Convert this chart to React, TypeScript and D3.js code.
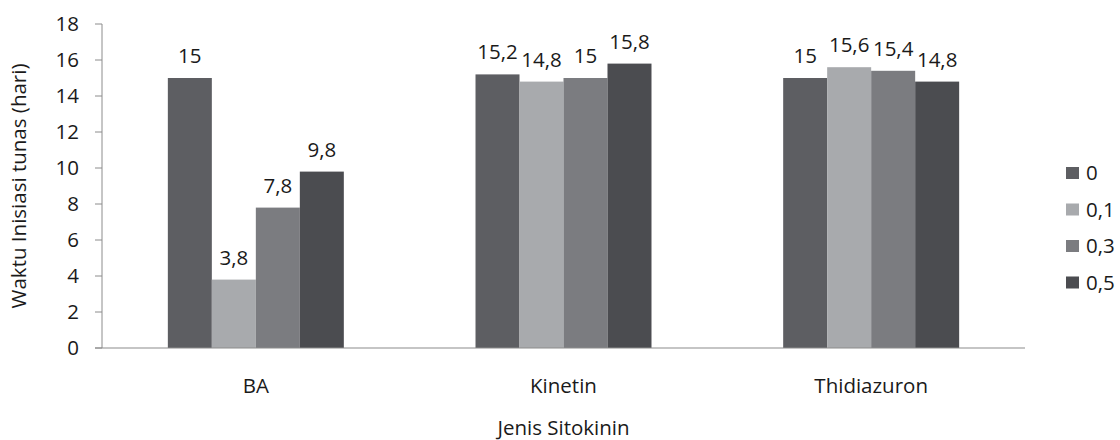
import React from "react";
import * as d3 from "d3";

const categories = ["BA", "Kinetin", "Thidiazuron"];
const seriesNames = ["0", "0,1", "0,3", "0,5"];
const seriesColors = ["#5d5e62", "#a8aaad", "#7b7c80", "#4b4c50"];
const values0 = [15, 15.2, 15];
const values01 = [3.8, 14.8, 15.6];
const values03 = [7.8, 15, 15.4];
const values05 = [9.8, 15.8, 14.8];
const yTicks = [0, 2, 4, 6, 8, 10, 12, 14, 16, 18];
const yTitle = "Waktu Inisiasi tunas (hari)";
const xTitle = "Jenis Sitokinin";

const seriesValues = [values0, values01, values03, values05];

export default function App() {
  const W = 1120, H = 440;
  const left = 102, right = 1025, top = 24, bottom = 348;
  const font = "'Open Sans', sans-serif";
  const fs = 20.5;
  const x0 = d3.scaleBand<string>().domain(categories).range([left, right]).paddingInner(0).paddingOuter(0);
  const bw = x0.bandwidth();
  const groupW = bw * 0.572;
  const x1 = d3.scaleBand<string>().domain(seriesNames).range([(bw - groupW) / 2, (bw + groupW) / 2]).padding(0);
  const y = d3.scaleLinear().domain([0, 18]).range([bottom, top]);
  const fmt = (v: number) => String(v).replace(".", ",");
  const axisColor = "#8c8c8c";
  const textColor = "#1a1a1a";

  return (
    <svg width={W} height={H} style={{ position: "absolute", left: 0, top: 0, background: "#fff" }} fontFamily={font}>
      <rect x={0} y={0} width={W} height={H} fill="#fff" />
      {/* y axis */}
      <line x1={left} x2={left} y1={top} y2={bottom} stroke={axisColor} strokeWidth={1} />
      {yTicks.map((t) => (
        <g key={t}>
          <line x1={left - 7} x2={left} y1={y(t)} y2={y(t)} stroke={axisColor} strokeWidth={1} />
          <text x={79} y={y(t)} dy="0.36em" textAnchor="end" fontSize={fs} fill={textColor}>
            {t}
          </text>
        </g>
      ))}
      {/* bars */}
      {categories.map((c, ci) => (
        <g key={c} transform={`translate(${x0(c)},0)`}>
          {seriesNames.map((s, si) => {
            const v = seriesValues[si][ci];
            const bx = x1(s)!;
            return (
              <g key={s}>
                <rect x={bx} y={y(v)} width={x1.bandwidth()} height={y(0) - y(v)} fill={seriesColors[si]} />
                <text x={bx + x1.bandwidth() / 2} y={y(v) - 15} textAnchor="middle" fontSize={fs} fill={textColor}>
                  {fmt(v)}
                </text>
              </g>
            );
          })}
          <text x={bw / 2} y={393} textAnchor="middle" fontSize={fs} fill={textColor}>
            {c}
          </text>
        </g>
      ))}
      {/* x axis */}
      <line x1={left - 7} x2={right} y1={bottom} y2={bottom} stroke={axisColor} strokeWidth={1.2} />
      {/* titles */}
      <text transform={`translate(26,186) rotate(-90)`} textAnchor="middle" fontSize={fs} fill={textColor}>
        {yTitle}
      </text>
      <text x={(left + right) / 2} y={435} textAnchor="middle" fontSize={fs} fill={textColor}>
        {xTitle}
      </text>
      {/* legend */}
      {seriesNames.map((s, i) => {
        const ly = 173 + i * 36.5;
        return (
          <g key={s}>
            <rect x={1066} y={ly - 6} width={13} height={12} fill={seriesColors[i]} />
            <text x={1086} y={ly} dy="0.36em" fontSize={fs} fill={textColor}>
              {s}
            </text>
          </g>
        );
      })}
    </svg>
  );
}
